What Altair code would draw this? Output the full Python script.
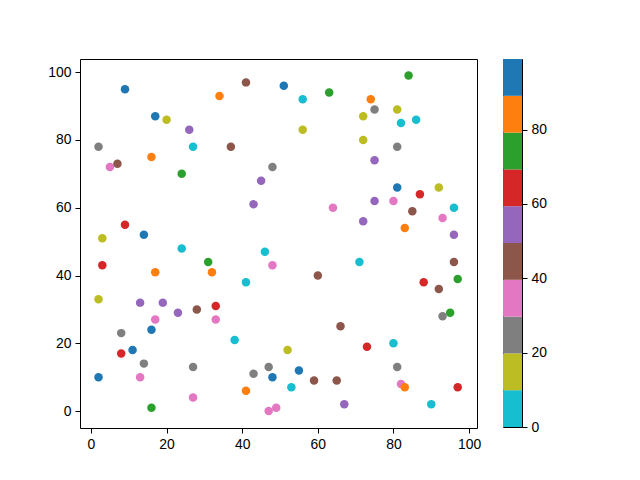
import altair as alt
import pandas as pd

# scatter points (x, y, colour value)
xs = [2, 2, 2, 3, 3, 5, 7, 8, 8, 9, 9, 11, 13, 13, 14, 14, 16, 16, 16, 17,
      17, 17, 19, 20, 23, 24, 24, 26, 27, 27, 27, 28, 31, 32, 33, 33, 34, 37, 38, 41,
      41, 41, 43, 43, 45, 46, 47, 47, 48, 48, 48, 49, 51, 52, 53, 55, 56, 56, 59, 60,
      63, 64, 65, 66, 67, 71, 72, 72, 72, 73, 74, 75, 75, 75, 80, 80, 81, 81, 81, 81,
      82, 82, 83, 83, 84, 85, 86, 87, 88, 90, 92, 92, 93, 93, 95, 96, 96, 96, 97, 97]
ys = [10, 33, 78, 51, 43, 72, 73, 23, 17, 95, 55, 18, 32, 10, 52, 14, 75, 24, 1, 87,
      41, 27, 32, 86, 29, 70, 48, 83, 78, 13, 4, 30, 44, 41, 31, 27, 93, 78, 21, 97,
      38, 6, 61, 11, 68, 47, 13, 0, 72, 43, 10, 1, 96, 18, 7, 12, 92, 83, 9, 40,
      94, 60, 9, 25, 2, 44, 87, 80, 56, 19, 92, 89, 74, 62, 62, 20, 89, 78, 66, 13,
      85, 8, 54, 7, 99, 59, 86, 64, 38, 2, 66, 36, 57, 28, 29, 60, 52, 44, 39, 7]
cs = [95, 15, 25, 15, 65, 35, 45, 25, 65, 95, 65, 95, 55, 35, 95, 25, 85, 95, 75, 95,
      85, 35, 55, 15, 55, 75, 5, 55, 5, 25, 35, 45, 75, 85, 65, 35, 85, 45, 5, 45,
      5, 85, 55, 25, 55, 5, 25, 35, 25, 35, 95, 35, 95, 15, 5, 95, 5, 15, 45, 45,
      75, 35, 45, 45, 55, 5, 15, 15, 55, 65, 85, 25, 55, 55, 35, 5, 15, 25, 95, 25,
      5, 35, 85, 85, 75, 45, 5, 65, 65, 5, 15, 45, 35, 25, 75, 5, 55, 45, 75, 65]

# colour bar segments (tab10 reversed, 0..99)
cbar_lo = [0, 9.9, 19.8, 29.7, 39.6, 49.5, 59.4, 69.3, 79.2, 89.1]
cbar_hi = [9.9, 19.8, 29.7, 39.6, 49.5, 59.4, 69.3, 79.2, 89.1, 99]
cbar_mid = [5, 15, 25, 35, 45, 55, 65, 75, 85, 95]
palette = ["#17becf", "#bcbd22", "#7f7f7f", "#e377c2", "#8c564b",
           "#9467bd", "#d62728", "#2ca02c", "#ff7f0e", "#1f77b4"]

df = pd.DataFrame({"x": xs, "y": ys, "c": cs})
cb = pd.DataFrame({"lo": cbar_lo, "hi": cbar_hi, "mid": cbar_mid})

FONT = "Liberation Sans"
FS = 13.9

color_scale = alt.Scale(type="quantize", domain=[0, 99], range=palette, nice=False)

def ax(**kw):
    return alt.Axis(title=None, grid=False, domain=False, tickSize=5,
                    tickColor="black", labelColor="black", labelFont=FONT,
                    labelFontSize=FS, labelPadding=4, labelFlush=False, **kw)

scatter = alt.Chart(df).mark_circle(size=72, opacity=1).encode(
    x=alt.X("x:Q", scale=alt.Scale(domain=[-2.9, 102.1], nice=False, zero=False),
            axis=ax(values=[0, 20, 40, 60, 80, 100])),
    y=alt.Y("y:Q", scale=alt.Scale(domain=[-5, 103.9], nice=False, zero=False),
            axis=ax(values=[0, 20, 40, 60, 80, 100])),
    color=alt.Color("c:Q", scale=color_scale, legend=None),
).properties(width=397, height=369)

cbar = alt.Chart(cb).mark_rect().encode(
    y=alt.Y("lo:Q", scale=alt.Scale(domain=[0, 99], nice=False, zero=False),
            axis=ax(orient="right", values=[0, 20, 40, 60, 80])),
    y2="hi:Q",
    color=alt.Color("mid:Q", scale=color_scale, legend=None),
).properties(width=19, height=368)

chart = alt.hconcat(scatter, cbar, spacing=20).properties(
    padding={"left": 39, "top": 50, "right": 5, "bottom": 5}
).configure_view(stroke="black", strokeWidth=1).resolve_scale(color="shared")

chart.save("out.html", embed_options={"renderer": "svg", "actions": False})
